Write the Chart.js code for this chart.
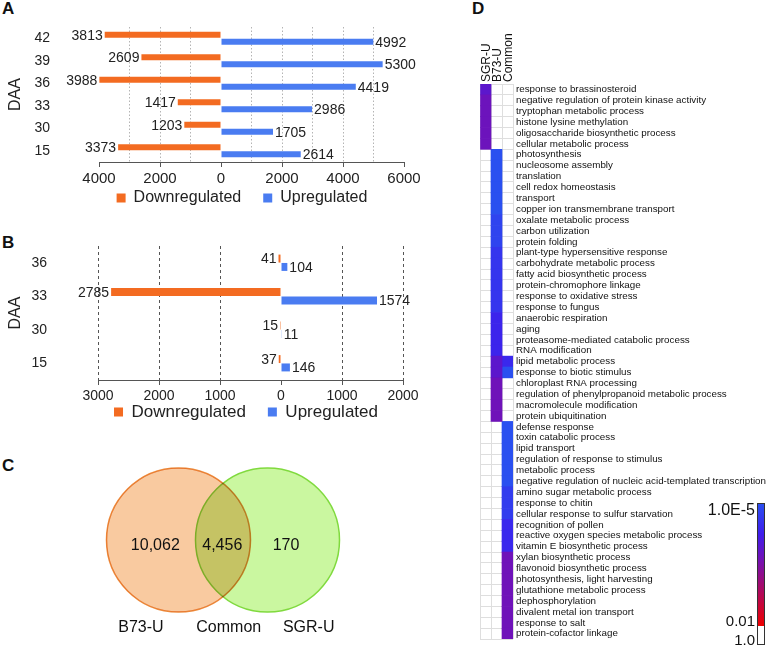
<!DOCTYPE html>
<html>
<head>
<meta charset="utf-8">
<script src="https://cdn.jsdelivr.net/npm/chart.js@4.4.1/dist/chart.umd.min.js"></script>
<style>
  body { margin: 0; background: #fff; width: 770px; height: 648px; position: relative; overflow: hidden;
         font-family: "Liberation Sans", Arial, Helvetica, sans-serif; }
  canvas { position: absolute; }
  .tag { position: absolute; font-weight: bold; font-size: 17px; line-height: 17px; color: #111; }
</style>
</head>
<body>
<div class="tag" style="left:2px;top:0px">A</div>
<div class="tag" style="left:2px;top:234px">B</div>
<div class="tag" style="left:2px;top:457px">C</div>
<div class="tag" style="left:472px;top:0px">D</div>

<canvas id="chartA" width="430" height="215" style="left:0;top:0"></canvas>
<canvas id="chartB" width="430" height="215" style="left:0;top:215px"></canvas>
<canvas id="chartC" width="430" height="218" style="left:8px;top:431px"></canvas>
<canvas id="chartD" width="300" height="648" style="left:470px;top:0"></canvas>

<script>
// ---- data ----
const daaA = ['42', '39', '36', '33', '30', '15'];
const downA = [3813, 2609, 3988, 1417, 1203, 3373];
const upA = [4992, 5300, 4419, 2986, 1705, 2614];

const daaB = ['36', '33', '30', '15'];
const downB = [41, 2785, 15, 37];
const upB = [104, 1574, 11, 146];

const vennSets = ['B73-U', 'Common', 'SGR-U'];
const vennCounts = [10062, 4456, 170];

const goColumns = ['SGR-U', 'B73-U', 'Common'];
const goTerms = [
  'response to brassinosteroid',
  'negative regulation of protein kinase activity',
  'tryptophan metabolic process',
  'histone lysine methylation',
  'oligosaccharide biosynthetic process',
  'cellular metabolic process',
  'photosynthesis',
  'nucleosome assembly',
  'translation',
  'cell redox homeostasis',
  'transport',
  'copper ion transmembrane transport',
  'oxalate metabolic process',
  'carbon utilization',
  'protein folding',
  'plant-type hypersensitive response',
  'carbohydrate metabolic process',
  'fatty acid biosynthetic process',
  'protein-chromophore linkage',
  'response to oxidative stress',
  'response to fungus',
  'anaerobic respiration',
  'aging',
  'proteasome-mediated catabolic process',
  'RNA modification',
  'lipid metabolic process',
  'response to biotic stimulus',
  'chloroplast RNA processing',
  'regulation of phenylpropanoid metabolic process',
  'macromolecule modification',
  'protein ubiquitination',
  'defense response',
  'toxin catabolic process',
  'lipid transport',
  'regulation of response to stimulus',
  'metabolic process',
  'negative regulation of nucleic acid-templated transcription',
  'amino sugar metabolic process',
  'response to chitin',
  'cellular response to sulfur starvation',
  'recognition of pollen',
  'reactive oxygen species metabolic process',
  'vitamin E biosynthetic process',
  'xylan biosynthetic process',
  'flavonoid biosynthetic process',
  'photosynthesis, light harvesting',
  'glutathione metabolic process',
  'dephosphorylation',
  'divalent metal ion transport',
  'response to salt',
  'protein-cofactor linkage'
];
// p values per column, null = not enriched
const pSGR = [
  1.3e-4, 2e-4, 2e-4, 2e-4, 2e-4, 2e-4,
  null, null, null, null, null, null, null, null, null, null,
  null, null, null, null, null, null, null, null, null, null,
  null, null, null, null, null, null, null, null, null, null,
  null, null, null, null, null, null, null, null, null, null,
  null, null, null, null, null
];
const pB73 = [
  null, null, null, null, null, null,
  1e-5, 1e-5, 1e-5, 1e-5, 1e-5, 1e-5,
  1.5e-5, 1.5e-5, 1.5e-5,
  2.5e-5, 2.5e-5, 2.5e-5, 2.5e-5, 2.5e-5, 2.5e-5,
  4.6e-5, 4.6e-5, 4.6e-5, 4.6e-5,
  1.3e-4, 1.3e-4,
  2.2e-4, 2.2e-4, 2.2e-4, 2.2e-4,
  null, null, null, null, null, null, null, null, null, null,
  null, null, null, null, null, null, null, null, null, null
];
const pCommon = [
  null, null, null, null, null, null, null, null, null, null,
  null, null, null, null, null, null, null, null, null, null,
  null, null, null, null, null,
  4e-5, 1e-5,
  null, null, null, null,
  1e-5, 1e-5, 1e-5, 1e-5, 1e-5, 1e-5,
  2e-5, 2e-5, 2e-5,
  4e-5, 4e-5, 4e-5,
  2.2e-4, 2.2e-4, 2.2e-4, 2.2e-4, 2.2e-4, 2.2e-4, 2.2e-4, 2.2e-4
];

// ---- styles ----
Chart.defaults.font.family = '"Liberation Sans", Arial, Helvetica, sans-serif';
Chart.defaults.color = '#222';
const FONT = '"Liberation Sans", Arial, Helvetica, sans-serif';
const orange = '#f36b21';
const blue = '#4a7cf1';

// colour scale of the heatmap (log10 p from -5 to -2)
const scaleStops = [
  [0, [42, 80, 240]],
  [0.25, [62, 30, 236]],
  [0.45, [112, 18, 184]],
  [0.7, [170, 10, 100]],
  [1, [238, 0, 0]]
];
function pColor(p) {
  if (p == null || p > 0.01) return 'rgba(0,0,0,0)';
  let t = (Math.log10(p) + 5) / 3;
  t = Math.max(0, Math.min(1, t));
  for (let i = 1; i < scaleStops.length; i++) {
    const [t1, c1] = scaleStops[i];
    const [t0, c0] = scaleStops[i - 1];
    if (t <= t1) {
      const f = (t - t0) / (t1 - t0);
      const c = c0.map((v, k) => Math.round(v + (c1[k] - v) * f));
      return `rgb(${c.join(',')})`;
    }
  }
  return 'rgb(238,0,0)';
}

// ---- plugins ----
const barLabels = {
  id: 'barLabels',
  afterDatasetsDraw(chart, args, opts) {
    const ctx = chart.ctx;
    ctx.save();
    ctx.font = `${opts.size}px ${FONT}`;
    ctx.fillStyle = '#222';
    ctx.textBaseline = 'middle';
    chart.data.datasets.forEach((ds, i) => {
      chart.getDatasetMeta(i).data.forEach((bar, j) => {
        const v = ds.data[j];
        ctx.textAlign = v < 0 ? 'right' : 'left';
        ctx.fillText(String(Math.abs(v)), bar.x + (v < 0 ? -2 : 2), bar.y + 1);
      });
    });
    ctx.restore();
  }
};

// move the legend block to a given centre
const legendSpot = {
  id: 'legendSpot',
  afterLayout(chart, args, opts) {
    const lg = chart.legend;
    if (!lg || opts.x == null) return;
    const dx = opts.x - (lg.left + lg.right) / 2;
    lg.left += dx;
    lg.right += dx;
    const lab = lg.options.labels;
    lg.top = opts.y - lab.padding - lab.font.size / 2;
    lg.bottom = opts.y + lab.font.size;
  }
};

function divergingChart(id, labels, down, up, cfg) {
  return new Chart(document.getElementById(id), {
    type: 'bar',
    data: {
      labels: labels,
      datasets: [
        { label: 'Downregulated', data: down.map(v => -v), backgroundColor: orange,
          categoryPercentage: cfg.cat, barPercentage: cfg.bar },
        { label: 'Upregulated', data: up, backgroundColor: blue,
          categoryPercentage: cfg.cat, barPercentage: cfg.bar }
      ]
    },
    plugins: [barLabels, legendSpot],
    options: {
      responsive: false,
      animation: false,
      indexAxis: 'y',
      layout: { padding: { top: cfg.top, left: 6, right: cfg.right, bottom: 0 } },
      plugins: {
        legend: {
          position: 'bottom',
          maxHeight: 24,
          labels: { boxWidth: 9, boxHeight: 9, padding: 22, color: '#222', font: { size: cfg.legendSize } }
        },
        tooltip: { enabled: false },
        legendSpot: { x: cfg.legendX, y: cfg.legendY },
        barLabels: { size: 14 }
      },
      scales: {
        x: {
          min: cfg.min,
          max: cfg.max,
          ticks: {
            stepSize: 1000, autoSkip: false, maxRotation: 0, padding: 3,
            font: { size: cfg.tickSize }, color: '#222',
            callback: v => (v % cfg.labelStep === 0 ? String(Math.abs(v)) : '')
          },
          grid: {
            color: c => {
              const v = c.tick ? c.tick.value : 0;
              if (v === 0 || (cfg.hideEdges && (v === cfg.min || v === cfg.max))) return 'rgba(0,0,0,0)';
              return cfg.gridColor;
            },
            tickLength: 5,
            tickColor: c => (c.tick && c.tick.value % cfg.labelStep === 0 ? '#555' : 'rgba(0,0,0,0)')
          },
          border: { color: '#555', dash: cfg.dash },
          afterFit: s => { s.height = cfg.xh; }
        },
        y: {
          grid: { display: false, drawTicks: true, tickLength: cfg.ygap },
          border: { display: false },
          ticks: { padding: 2, font: { size: 14 }, color: '#222' },
          title: { display: true, text: 'DAA', color: '#222', font: { size: 16 }, padding: 0 },
          afterFit: s => { s.width = cfg.yw; }
        }
      }
    }
  });
}

divergingChart('chartA', daaA, downA, upA, {
  min: -4000, max: 6000, labelStep: 2000, hideEdges: true,
  top: 27, right: 26, xh: 29, yw: 93, ygap: 47,
  cat: 0.62, bar: 0.86,
  legendX: 242, legendY: 198, legendSize: 16, tickSize: 15,
  gridColor: '#b4b4b4', dash: [1.5, 2]
});

divergingChart('chartB', daaB, downB, upB, {
  min: -3000, max: 2000, labelStep: 1000, hideEdges: false,
  top: 31, right: 27, xh: 26, yw: 92, ygap: 49,
  cat: 0.5, bar: 0.95,
  legendX: 246, legendY: 197, legendSize: 17, tickSize: 14,
  gridColor: '#555', dash: [3, 3]
});

// ---- C: Venn ----
// datasets are painted last-to-first, so the first circle is multiplied onto the second
const multiplyBlend = {
  id: 'multiplyBlend',
  beforeDatasetDraw(chart, args) {
    if (args.index === 0) {
      chart.ctx.save();
      chart.ctx.globalCompositeOperation = 'multiply';
    }
  },
  afterDatasetDraw(chart, args) {
    if (args.index === 0) chart.ctx.restore();
  }
};
const vennText = {
  id: 'vennText',
  afterDatasetsDraw(chart, args, o) {
    const { ctx, scales: { x, y } } = chart;
    ctx.save();
    ctx.font = `16px ${FONT}`;
    ctx.fillStyle = '#111';
    ctx.textAlign = 'center';
    ctx.textBaseline = 'middle';
    vennCounts.forEach((n, i) => {
      const txt = String(n).replace(/\B(?=(\d{3})+(?!\d))/g, ',');
      ctx.fillText(txt, x.getPixelForValue(o.countX[i]), y.getPixelForValue(o.countY));
    });
    vennSets.forEach((s, i) => {
      ctx.fillText(s, x.getPixelForValue(o.nameX[i]), y.getPixelForValue(o.nameY));
    });
    ctx.restore();
  }
};
const unitRadius = c => {
  const s = c.chart.scales.x;
  return s.getPixelForValue(1) - s.getPixelForValue(0);
};
new Chart(document.getElementById('chartC'), {
  type: 'scatter',
  data: {
    datasets: [
      { label: vennSets[0], data: [{ x: -0.618, y: 0 }], pointRadius: unitRadius, pointHoverRadius: unitRadius,
        backgroundColor: 'rgb(249,202,160)', borderColor: 'rgb(236,138,58)', pointBorderWidth: 1.5, clip: false },
      { label: vennSets[2], data: [{ x: 0.618, y: 0 }], pointRadius: unitRadius, pointHoverRadius: unitRadius,
        backgroundColor: 'rgb(202,247,160)', borderColor: 'rgb(128,218,62)', pointBorderWidth: 1.5, clip: false }
    ]
  },
  plugins: [multiplyBlend, vennText],
  options: {
    responsive: false,
    animation: false,
    events: [],
    layout: { padding: 0 },
    plugins: {
      legend: { display: false },
      tooltip: { enabled: false },
      vennText: { countX: [-0.94, -0.01, 0.875], countY: -0.08, nameX: [-1.14, 0.08, 1.19], nameY: -1.22 }
    },
    scales: {
      x: { display: false, min: -2.986, max: 2.986 },
      y: { display: false, min: -1.514, max: 1.514 }
    }
  }
});

// ---- D: GO heatmap ----
const pColumns = [pSGR, pB73, pCommon];
const colorKey = {
  id: 'colorKey',
  afterDraw(chart, args, o) {
    const ctx = chart.ctx;
    ctx.save();
    const g = ctx.createLinearGradient(0, o.top, 0, o.redBottom);
    scaleStops.forEach(([t, c]) => g.addColorStop(t, `rgb(${c.join(',')})`));
    ctx.fillStyle = g;
    ctx.fillRect(o.x, o.top, o.width, o.redBottom - o.top);
    ctx.fillStyle = '#fff';
    ctx.fillRect(o.x, o.redBottom, o.width, o.bottom - o.redBottom);
    ctx.strokeStyle = '#333';
    ctx.lineWidth = 1;
    ctx.strokeRect(o.x + 0.5, o.top + 0.5, o.width - 1, o.bottom - o.top - 1);
    ctx.fillStyle = '#111';
    ctx.textAlign = 'right';
    ctx.textBaseline = 'middle';
    ctx.font = `16px ${FONT}`;
    ctx.fillText('1.0E-5', o.x - 2, o.top + 8);
    ctx.font = `15px ${FONT}`;
    ctx.fillText('0.01', o.x - 2, o.redBottom - 4);
    ctx.fillText('1.0', o.x - 2, o.bottom - 4);
    ctx.restore();
  }
};
const noSidePad = s => { s.paddingLeft = 0; s.paddingRight = 0; };
new Chart(document.getElementById('chartD'), {
  type: 'bar',
  data: {
    labels: goTerms,
    datasets: goColumns.map((col, c) => ({
      label: col,
      data: goTerms.map(() => 1),
      backgroundColor: pColumns[c].map(pColor),
      borderWidth: 0,
      barPercentage: 1,
      categoryPercentage: 1
    }))
  },
  plugins: [colorKey],
  options: {
    responsive: false,
    animation: false,
    indexAxis: 'y',
    layout: { padding: { top: 4, left: 10, right: 0, bottom: 3 } },
    plugins: {
      legend: { display: false },
      tooltip: { enabled: false },
      colorKey: { x: 287, width: 8, top: 503, redBottom: 626, bottom: 645 }
    },
    scales: {
      x: {
        stacked: true, min: 0, max: 3,
        ticks: { display: false, stepSize: 1 },
        grid: { color: '#dedede', drawTicks: false },
        border: { display: false },
        afterFit: s => { s.height = 0; noSidePad(s); }
      },
      x2: {
        type: 'category', labels: goColumns, position: 'top', offset: true,
        grid: { display: false, drawTicks: false },
        border: { display: false },
        ticks: { minRotation: 90, maxRotation: 90, autoSkip: false, padding: 2, labelOffset: 16,
                 color: '#111', font: { size: 12 } },
        afterFit: s => { s.height = 80; noSidePad(s); }
      },
      y: {
        stacked: true, position: 'right',
        grid: { color: '#dedede', drawTicks: false, offset: true },
        border: { display: false },
        ticks: { autoSkip: false, padding: 3, color: '#111', font: { size: 9.8 } },
        afterFit: s => { s.width = 257; }
      }
    }
  }
});
</script>
</body>
</html>
